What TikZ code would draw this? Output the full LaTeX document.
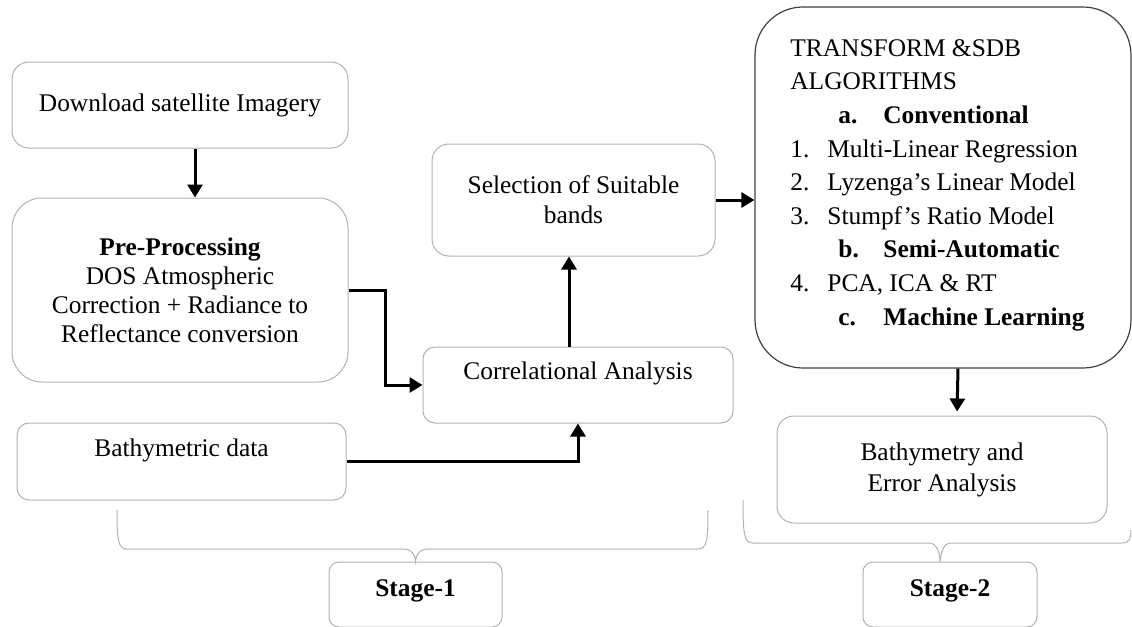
\documentclass[tikz,border=0pt]{standalone}
\usepackage{fontspec}
\setmainfont{Liberation Serif}
\usetikzlibrary{arrows.meta}
\tikzset{
  box/.style={draw=gray!60, line width=0.5pt, rounded corners=#1, align=center,
    inner sep=0pt, font=\fontsize{12.7}{15}\selectfont},
  box/.default=8pt,
  lift/.style={text height=9pt, text depth=#1},
  arr/.style={line width=1.5pt, -{Triangle[width=7.5pt,length=6.5pt]}},
  brace/.style={draw=gray!60, line width=0.5pt},
}
\begin{document}
\begin{tikzpicture}[x=0.5pt, y=-0.5pt]
  \useasboundingbox (0,0) rectangle (1132,627);
  % stage 1 boxes
  \node[box=8.5pt, minimum width=168pt, minimum height=43pt] (dl) at (180,105) {Download satellite Imagery};
  \node[box=15pt, minimum width=168pt, minimum height=92pt, font=\fontsize{12.7}{14.5}\selectfont] (pre) at (180,290)
    {\textbf{Pre-Processing}\\DOS Atmospheric\\Correction + Radiance to\\Reflectance conversion};
  \node[box=8.5pt, minimum width=141.5pt, minimum height=56pt] (sel) at (573.5,200) {Selection of Suitable\\bands};
  \node[box=6pt, lift=14.7pt, minimum width=155pt, minimum height=38pt] (corr) at (578,385) {Correlational Analysis};
  \node[box=6pt, lift=14.5pt, minimum width=164.5pt, minimum height=38.5pt] (bd) at (181.5,461.5) {Bathymetric data};
  % stage 2 boxes
  \node[box=24pt, draw=black!75, line width=0.6pt, minimum width=188pt, minimum height=180.5pt] (algo) at (943,187.5) {};
  \node[anchor=north west, inner sep=0pt, align=left, font=\fontsize{12.7}{16.8}\selectfont] (algotxt) at (790,39)
    {TRANSFORM \&SDB\\
     ALGORITHMS\\
     \hspace*{24pt}\makebox[22.5pt][l]{\textbf{a.}}\textbf{Conventional}\\
     \makebox[18.5pt][l]{1.}Multi-Linear Regression\\
     \makebox[18.5pt][l]{2.}Lyzenga's Linear Model\\
     \makebox[18.5pt][l]{3.}Stumpf's Ratio Model\\
     \hspace*{24pt}\makebox[22.5pt][l]{\textbf{b.}}\textbf{Semi-Automatic}\\
     \makebox[18.5pt][l]{4.}PCA, ICA \& RT\\
     \hspace*{24pt}\makebox[22.5pt][l]{\textbf{c.}}\textbf{Machine Learning}};
  \node[box=8.5pt, minimum width=165pt, minimum height=53.5pt, font=\fontsize{12.7}{15.5}\selectfont] (bay) at (942,469.5)
    {Bathymetry and\\Error Analysis};
  % stage labels
  \node[box=5pt, lift=7.2pt, minimum width=86.5pt, minimum height=32.5pt, font=\fontsize{12.7}{15}\selectfont\bfseries] (st1) at (415.5,594.5) {Stage-1};
  \node[box=5pt, lift=7.2pt, minimum width=87pt, minimum height=32.5pt, font=\fontsize{12.7}{15}\selectfont\bfseries] (st2) at (950,594.5) {Stage-2};
  % connectors
  \draw[arr] ([xshift=7.5pt]dl.south) -- ([xshift=7.5pt]pre.north);
  \draw[arr] (pre.east) -- ++(18.5pt,0) |- (corr.west);
  \draw[arr] ([xshift=-4.5pt]corr.north) -- ([xshift=-4.5pt]corr.north |- sel.south);
  \draw[arr] (bd.east) -| (corr.south);
  \draw[arr] (sel.east) -- (sel.east -| algo.west);
  \draw[arr, shorten >=2pt] ([xshift=7.5pt]algo.south) -- ([xshift=7.5pt]bay.north);
  % braces
  \draw[brace] (117,510) .. controls (117,540) and (118,549) .. (127,549) -- (404,549)
    .. controls (410,549) and (415,553) .. (st1.north) .. controls (416,553) and (421,549) .. (427,549)
    -- (698,549) .. controls (707,549) and (708,540) .. (708,510);
  \draw[brace] (743,500) .. controls (743,534) and (744,543) .. (753,543) -- (930,543)
    .. controls (936,543) and (940,552) .. ([xshift=-5pt]st2.north) .. controls (941,552) and (944,543) .. (950,543)
    -- (1122,543) .. controls (1130,543) and (1131,538) .. (1131,530);
\end{tikzpicture}
\end{document}
